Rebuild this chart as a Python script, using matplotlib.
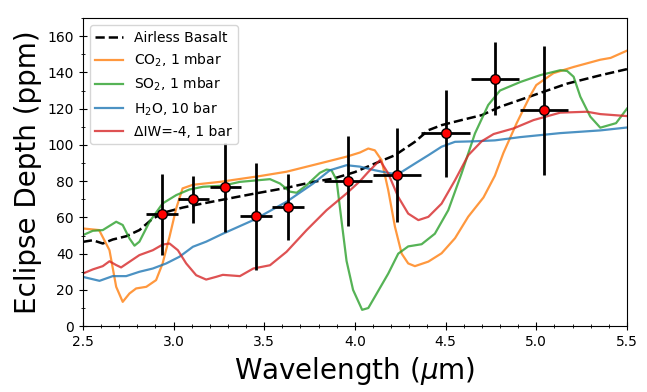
import matplotlib
matplotlib.use("Agg")
import matplotlib.pyplot as plt
from matplotlib.ticker import MultipleLocator

# model spectra
wl_basalt = [2.50, 2.555, 2.61, 2.665, 2.739, 2.812, 2.886, 2.96, 3.05, 3.143, 3.272, 3.44, 3.623,
             3.77, 3.881, 4.0, 4.11, 4.221, 4.331, 4.405, 4.478, 4.588, 4.699, 4.80, 4.985, 5.17,
             5.353, 5.50]
basalt = [46.5, 47.4, 45.6, 47.8, 49.6, 53, 59.4, 63, 65.4, 67.3, 69.8, 73, 76.3,
          79.6, 81.4, 85, 89.7, 94.3, 101.7, 108.1, 110.9, 113.7, 116.4, 121, 127.4, 133.8,
          138.4, 141.8]

wl_co2 = [2.50, 2.59, 2.647, 2.684, 2.72, 2.757, 2.794, 2.85, 2.904, 2.94, 2.978, 3.015, 3.05,
          3.107, 3.256, 3.476, 3.623, 3.807, 3.954, 4.028, 4.074, 4.11, 4.147, 4.184, 4.221,
          4.258, 4.294, 4.331, 4.405, 4.478, 4.552, 4.625, 4.709, 4.772, 4.819, 4.892, 4.966,
          5.0, 5.095, 5.206, 5.353, 5.41, 5.50]
co2 = [53.9, 53, 41.9, 21.7, 13.4, 18, 20.8, 21.7, 25.4, 34.6, 49.3, 65, 76,
       78, 79.6, 82.8, 85.2, 89.8, 93.5, 95.8, 98, 97, 91.6, 75, 54.8,
       40, 34.6, 33.1, 35.6, 40.2, 48.5, 60.4, 71, 83, 95.6, 112, 127,
       133, 139.6, 143, 147, 148, 152]

wl_so2 = [2.50, 2.555, 2.61, 2.684, 2.72, 2.757, 2.785, 2.812, 2.868, 2.94, 3.015, 3.088, 3.162,
          3.272, 3.366, 3.532, 3.587, 3.642, 3.679, 3.734, 3.807, 3.844, 3.871, 3.899, 3.926,
          3.954, 3.99, 4.04, 4.074, 4.11, 4.184, 4.239, 4.294, 4.368, 4.441, 4.515, 4.588,
          4.662, 4.735, 4.80, 4.912, 5.022, 5.132, 5.17, 5.206, 5.243, 5.298, 5.353, 5.44, 5.50]
so2 = [50.2, 52.6, 53, 57.6, 55.8, 48.4, 44.4, 46.6, 57.6, 67.7, 72.3, 75.4, 76.9,
       77.5, 79.6, 81.1, 78.7, 74.2, 73.6, 77.8, 84.6, 86.4, 86, 80.6, 58.5,
       36, 20, 9, 10, 16.2, 29, 40, 44, 45.2, 51, 64, 84.2,
       106.3, 122, 130, 134.7, 138.5, 141.2, 140.8, 137.6, 126.6, 115.6, 109.5, 112, 120]

wl_h2o = [2.50, 2.592, 2.665, 2.739, 2.812, 2.886, 2.96, 3.033, 3.107, 3.18, 3.272, 3.44, 3.623,
          3.77, 3.862, 3.954, 4.028, 4.11, 4.202, 4.258, 4.331, 4.405, 4.478, 4.552, 4.662,
          4.772, 4.912, 5.132, 5.353, 5.50]
h2o = [27.2, 25, 27.6, 27.6, 30, 31.8, 34.6, 38.3, 43.8, 46.6, 51, 58.5, 68.6,
       78.7, 86, 88.8, 88, 86, 84.2, 85.1, 89.7, 94.3, 99, 101.7, 102,
       102.5, 104.3, 106.5, 108, 109.6]

wl_iw = [2.50, 2.555, 2.61, 2.647, 2.684, 2.711, 2.757, 2.812, 2.886, 2.94, 2.978, 3.024, 3.07,
         3.125, 3.18, 3.235, 3.272, 3.366, 3.44, 3.532, 3.623, 3.734, 3.844, 3.954, 4.028,
         4.074, 4.138, 4.184, 4.239, 4.294, 4.35, 4.405, 4.478, 4.552, 4.625, 4.699, 4.765,
         4.875, 4.985, 5.132, 5.279, 5.353, 5.50]
iw = [29, 31.3, 33.1, 35.8, 33.7, 32.4, 35.5, 39.2, 41.9, 45, 45.6, 41.9, 34.6,
      28.1, 25.7, 27.2, 28.3, 27.6, 31.8, 33.6, 41, 53, 64, 73.2, 80,
      85.1, 91.6, 84.2, 71.3, 62.1, 58.5, 60.3, 67.6, 80.5, 94.3, 102, 106,
      109.1, 113.7, 117.8, 118.3, 117, 115.9]

# observed eclipse depths
obs_wl = [2.936, 3.108, 3.285, 3.456, 3.631, 3.963, 4.232, 4.500, 4.772, 5.041]
obs_depth = [61.6, 70.1, 76.5, 60.5, 65.8, 80.0, 83.5, 106.5, 136.5, 119.0]
obs_err = [22.5, 13, 24.5, 29.7, 18, 25, 26, 24, 20, 35.5]
obs_bin = [0.087, 0.085, 0.085, 0.087, 0.087, 0.133, 0.134, 0.133, 0.134, 0.133]

fig = plt.figure(figsize=(6.47, 3.92), dpi=100)
ax = fig.add_axes([0.128, 0.168, 0.841, 0.786])

ax.plot(wl_basalt, basalt, "k--", lw=1.8, label="Airless Basalt")
ax.plot(wl_co2, co2, color="tab:orange", alpha=0.8, lw=1.6, label="CO$_2$, 1 mbar")
ax.plot(wl_so2, so2, color="tab:green", alpha=0.8, lw=1.6, label="SO$_2$, 1 mbar")
ax.plot(wl_h2o, h2o, color="tab:blue", alpha=0.8, lw=1.6, label="H$_2$O, 10 bar")
ax.plot(wl_iw, iw, color="tab:red", alpha=0.8, lw=1.6, label="ΔIW=-4, 1 bar")

ax.errorbar(obs_wl, obs_depth, yerr=obs_err, xerr=obs_bin, fmt="o", color="k", ecolor="k",
            elinewidth=2, capsize=0, mfc="red", mec="k", ms=7, zorder=5)

ax.set_xlim(2.5, 5.5)
ax.set_ylim(0, 170)
ax.xaxis.set_major_locator(MultipleLocator(0.5))
ax.xaxis.set_minor_locator(MultipleLocator(0.1))
ax.yaxis.set_major_locator(MultipleLocator(20))
ax.yaxis.set_minor_locator(MultipleLocator(10))
ax.tick_params(which="both", direction="inout", labelsize=10)
ax.tick_params(which="major", length=6)
ax.tick_params(which="minor", length=3)

ax.set_xlabel(r"Wavelength ($\mu$m)", fontsize=20)
ax.set_ylabel("Eclipse Depth (ppm)", fontsize=20)
ax.legend(loc="upper left", fontsize=10)

fig.savefig("out.png", dpi=100)
